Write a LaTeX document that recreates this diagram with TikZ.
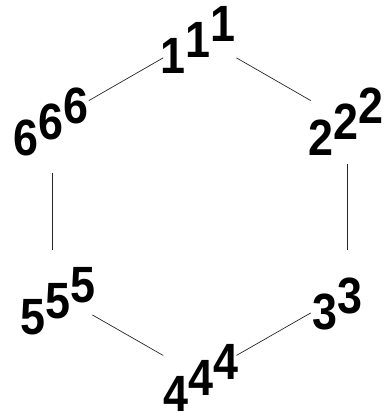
\documentclass[tikz,border=0pt]{standalone}
\usepackage{fontspec}
\newfontfamily\cifra{Liberation Sans}[FakeStretch=0.88]
\newcommand{\liftup}[1]{\raisebox{16pt}{#1}}

\begin{document}
\begin{tikzpicture}[x=1pt, y=-1pt,
    vertice/.style={circle, minimum size=84pt, inner sep=0pt},
    cifras/.style={font=\cifra\bfseries\fontsize{51}{51}\selectfont, inner sep=0pt},
    arista/.style={draw=black!85, line width=0.7pt}
  ]
  \useasboundingbox (0,0) rectangle (389,419);

  % --- vertices del hexagono ---
  \node[vertice, label={[cifras, xshift=-2pt, yshift=-3pt]center:1\liftup{1\liftup{1}}}] (n1) at (199.8,36.8) {};
  \node[vertice, label={[cifras, xshift=-1pt]center:2\liftup{2\liftup{2}}}] (n2) at (347.3,121.6) {};
  \node[vertice, label={[cifras, xshift=-10pt, yshift=-12pt]center:3\liftup{3}}] (n3) at (347.3,292.0) {};
  \node[vertice, label={[cifras, xshift=1pt, yshift=-2pt]center:4\liftup{4\liftup{4}}}] (n4) at (199.8,376.4) {};
  \node[vertice, label={[cifras, xshift=6pt, yshift=-9pt]center:5\liftup{5\liftup{5}}}] (n5) at (52.3,292.0) {};
  \node[vertice, label={[cifras, xshift=-1pt]center:6\liftup{6\liftup{6}}}] (n6) at (52.3,121.6) {};

  % --- aristas ---
  \draw[arista] (n1) -- (n2);
  \draw[arista] (n2) -- (n3);
  \draw[arista] (n3) -- (n4);
  \draw[arista, shorten >=4pt] (n4) -- (n5);
  \draw[arista, shorten <=9pt] (n6) -- (n5);
  \draw[arista] (n1) -- (n6);
\end{tikzpicture}
\end{document}
